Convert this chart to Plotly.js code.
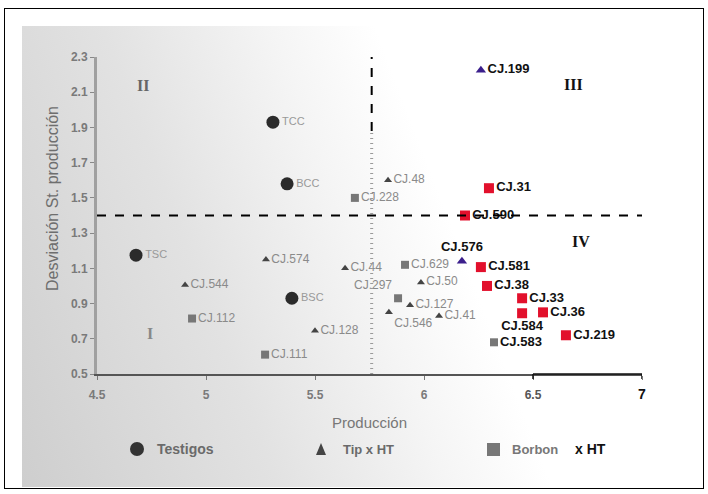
<!DOCTYPE html>
<html>
<head>
<meta charset="utf-8">
<script src="https://cdn.plot.ly/plotly-3.0.1.min.js"></script>
<style>
  html, body { margin:0; padding:0; width:708px; height:494px; background:#fff; overflow:hidden; }
  #frame { position:absolute; left:4px; top:8px; width:700px; height:481px; border:1px solid #000; box-sizing:border-box; }
  #grad { position:absolute; left:22px; top:26px; width:678px; height:461px;
          background: linear-gradient(69deg, #cecece 0%, #e2e2e2 30%, #f5f5f5 50%, #ffffff 62%); }
  #chart { position:absolute; left:0; top:0; width:708px; height:494px; }
</style>
</head>
<body>
<div id="frame"></div>
<div id="grad"></div>
<div id="chart"></div>
<script>
// ---- Data ----
const testigosNames = ["TCC", "BCC", "TSC", "BSC"];
const testigosX = [5.307, 5.372, 4.679, 5.394];
const testigosY = [1.93, 1.58, 1.175, 0.93];

const tipNames = ["CJ.574", "CJ.544", "CJ.128", "CJ.48", "CJ.44", "CJ.50", "CJ.127", "CJ.546", "CJ.41"];
const tipX = [5.275, 4.904, 5.50, 5.835, 5.638, 5.986, 5.936, 5.839, 6.069];
const tipY = [1.15, 1.005, 0.745, 1.60, 1.10, 1.02, 0.89, 0.85, 0.83];

const tipSelNames = ["CJ.199", "CJ.576"];
const tipSelX = [6.261, 6.174];
const tipSelY = [2.225, 1.14];

const borbonNames = ["CJ.228", "CJ.112", "CJ.111", "CJ.629", "CJ.297", "CJ.583"];
const borbonX = [5.683, 4.936, 5.271, 5.913, 5.881, 6.321];
const borbonY = [1.50, 0.815, 0.61, 1.12, 0.93, 0.68];

const borbonSelNames = ["CJ.31", "CJ.590", "CJ.581", "CJ.38", "CJ.33", "CJ.36", "CJ.584", "CJ.219"];
const borbonSelX = [6.298, 6.188, 6.261, 6.289, 6.45, 6.546, 6.45, 6.651];
const borbonSelY = [1.555, 1.40, 1.107, 1.0, 0.93, 0.85, 0.845, 0.72];

const xTicks = [4.5, 5, 5.5, 6, 6.5, 7];
const xTickText = ["4.5", "5", "5.5", "6", "<span style='color:#555'>6.5</span>", "<span style='color:#111;font-size:14px'>7</span>"];
const yTicks = [0.5, 0.7, 0.9, 1.1, 1.3, 1.5, 1.7, 1.9, 2.1, 2.3];

const refX = 5.76;   // vertical reference (mean production)
const refY = 1.40;   // horizontal reference (mean deviation)

const quadrants = [
  {label: "I", x: 4.745, y: 0.73, color: "#888"},
  {label: "II", x: 4.71, y: 2.14, color: "#666"},
  {label: "III", x: 6.685, y: 2.145, color: "#111"},
  {label: "IV", x: 6.72, y: 1.255, color: "#111"}
];

// ---- Styles ----
const FONT = "Liberation Sans, Arial, sans-serif";
const grayLbl = "#8a8a8a";

const traces = [
  {
    x: testigosX, y: testigosY, text: testigosNames, mode: "markers+text", type: "scatter",
    marker: {symbol: "circle", size: 13, color: "#2b2b2b"},
    textposition: "middle right",
    textfont: {family: FONT, size: 11, color: "#999"}, cliponaxis: false, hoverinfo: "skip"
  },
  {
    x: tipX, y: tipY, text: tipNames, mode: "markers+text", type: "scatter",
    marker: {symbol: "triangle-up", size: 7, color: "#444"},
    textposition: ["middle right","middle right","middle right","middle right","middle right","middle right","middle right","bottom right","middle right"],
    textfont: {family: FONT, size: 12, color: grayLbl}, cliponaxis: false, hoverinfo: "skip"
  },
  {
    x: tipSelX, y: tipSelY, text: tipSelNames, mode: "markers+text", type: "scatter",
    marker: {symbol: "triangle-up", size: 9, color: "#3b1f8c"},
    textposition: ["middle right", "top center"],
    textfont: {family: FONT, size: 13, color: "#111", weight: "bold"}, cliponaxis: false, hoverinfo: "skip"
  },
  {
    x: borbonX, y: borbonY, text: borbonNames, mode: "markers+text", type: "scatter",
    marker: {symbol: "square", size: 8, color: "#777"},
    textposition: ["middle right","middle right","middle right","middle right","top left","middle right"],
    textfont: {family: FONT, size: [12,12,12,12,12,13], color: [grayLbl,grayLbl,grayLbl,grayLbl,grayLbl,"#111"], weight: [400,400,400,400,400,700]},
    cliponaxis: false, hoverinfo: "skip"
  },
  {
    x: borbonSelX, y: borbonSelY, text: borbonSelNames, mode: "markers+text", type: "scatter",
    marker: {symbol: "square", size: 10, color: "#e2102c"},
    textposition: ["middle right","middle right","middle right","middle right","middle right","middle right","bottom center","middle right"],
    textfont: {family: FONT, size: 13, color: "#111", weight: "bold"}, cliponaxis: false, hoverinfo: "skip"
  }
];

const annotations = quadrants.map(q => ({
  x: q.x, y: q.y, xref: "x", yref: "y", text: "<b>" + q.label + "</b>", showarrow: false,
  font: {family: "Liberation Serif, DejaVu Serif, serif", size: 16, color: q.color}
}));

// pixel helpers for decorations in paper coordinates
const W = 708, H = 494, mL = 97, mR = 66, mT = 57, mB = 120;
const pw = W - mL - mR, ph = H - mT - mB;
function px2x(px) { return (px - mL) / pw; }
function py2y(py) { return (H - mB - py) / ph; }
const legY = py2y(449);

// y-axis title
annotations.push({
  xref: "paper", yref: "paper", x: px2x(52), y: py2y(199), xanchor: "center", yanchor: "middle", textangle: -90,
  text: "Desviación St. producción", showarrow: false,
  font: {family: FONT, size: 16, color: "#6e6e6e"}
});

// legend row
const legText = {xref: "paper", yref: "paper", xanchor: "left", yanchor: "middle", showarrow: false};
annotations.push(
  Object.assign({x: px2x(155), y: legY, text: "<b>Testigos</b>", font: {size: 14, color: "#6a6a6a", family: FONT}}, legText),
  Object.assign({x: px2x(341), y: legY, text: "<b>Tip x HT</b>", font: {size: 13, color: "#6a6a6a", family: FONT}}, legText),
  Object.assign({x: px2x(510), y: legY, text: "<b>Borbon</b>", font: {size: 13, color: "#777", family: FONT}}, legText),
  Object.assign({x: px2x(573), y: legY, text: "<b>x HT</b>", font: {size: 14, color: "#111", family: FONT}}, legText)
);

const shapes = [
  {type: "line", xref: "x", yref: "y", x0: refX, x1: refX, y0: 1.88, y1: 2.3, line: {color: "#000", width: 2, dash: "dash"}},
  {type: "line", xref: "x", yref: "y", x0: refX, x1: refX, y0: 0.5, y1: 1.88, line: {color: "#9a9a9a", width: 3, dash: "1px,4px"}},
  {type: "line", xref: "x", yref: "y", x0: 4.5, x1: 7.0, y0: refY, y1: refY, line: {color: "#000", width: 2, dash: "dash"}},
  // darker right part of x axis with black ticks
  {type: "line", xref: "x", yref: "paper", x0: 6.5, x1: 7, y0: 0, y1: 0, line: {color: "#111", width: 1.5}},
  {type: "line", xref: "x", yref: "paper", x0: 6.5, x1: 6.5, y0: 0, y1: py2y(379), line: {color: "#111", width: 1.5}},
  {type: "line", xref: "x", yref: "paper", x0: 7, x1: 7, y0: 0, y1: py2y(379), line: {color: "#111", width: 1.5}},
  // legend symbols
  {type: "circle", xref: "paper", yref: "paper", x0: px2x(130), x1: px2x(144), y0: py2y(442), y1: py2y(456), fillcolor: "#333", line: {width: 0}},
  {type: "path", xref: "paper", yref: "paper",
   path: "M " + px2x(316) + " " + py2y(455) + " L " + px2x(326) + " " + py2y(455) + " L " + px2x(321) + " " + py2y(443) + " Z",
   fillcolor: "#444", line: {width: 0}},
  {type: "rect", xref: "paper", yref: "paper", x0: px2x(487), x1: px2x(500), y0: py2y(443), y1: py2y(456), fillcolor: "#777", line: {width: 0}}
];

const layout = {
  width: W, height: H,
  margin: {l: mL, r: mR, t: mT, b: mB},
  paper_bgcolor: "rgba(0,0,0,0)", plot_bgcolor: "rgba(0,0,0,0)",
  showlegend: false,
  font: {family: FONT},
  xaxis: {
    range: [4.5, 7], tickvals: xTicks, ticktext: xTickText,
    showgrid: false, zeroline: false, showline: true, linecolor: "#555", linewidth: 2,
    ticks: "outside", ticklen: 4, tickcolor: "#777", ticklabelstandoff: 5,
    tickfont: {family: FONT, size: 12, color: "#7a7a7a", weight: "bold"},
    title: {text: "Producción", font: {family: FONT, size: 15, color: "#777"}, standoff: 16}
  },
  yaxis: {
    range: [0.5, 2.3], tickvals: yTicks, tickformat: ".1f",
    showgrid: false, zeroline: false, showline: true, linecolor: "#a0a0a0", linewidth: 3,
    ticks: "outside", ticklen: 4, tickcolor: "#888",
    tickfont: {family: FONT, size: 12, color: "#7a7a7a", weight: "bold"}
  },
  annotations: annotations,
  shapes: shapes
};

Plotly.newPlot("chart", traces, layout, {staticPlot: true, displayModeBar: false});
</script>
</body>
</html>
